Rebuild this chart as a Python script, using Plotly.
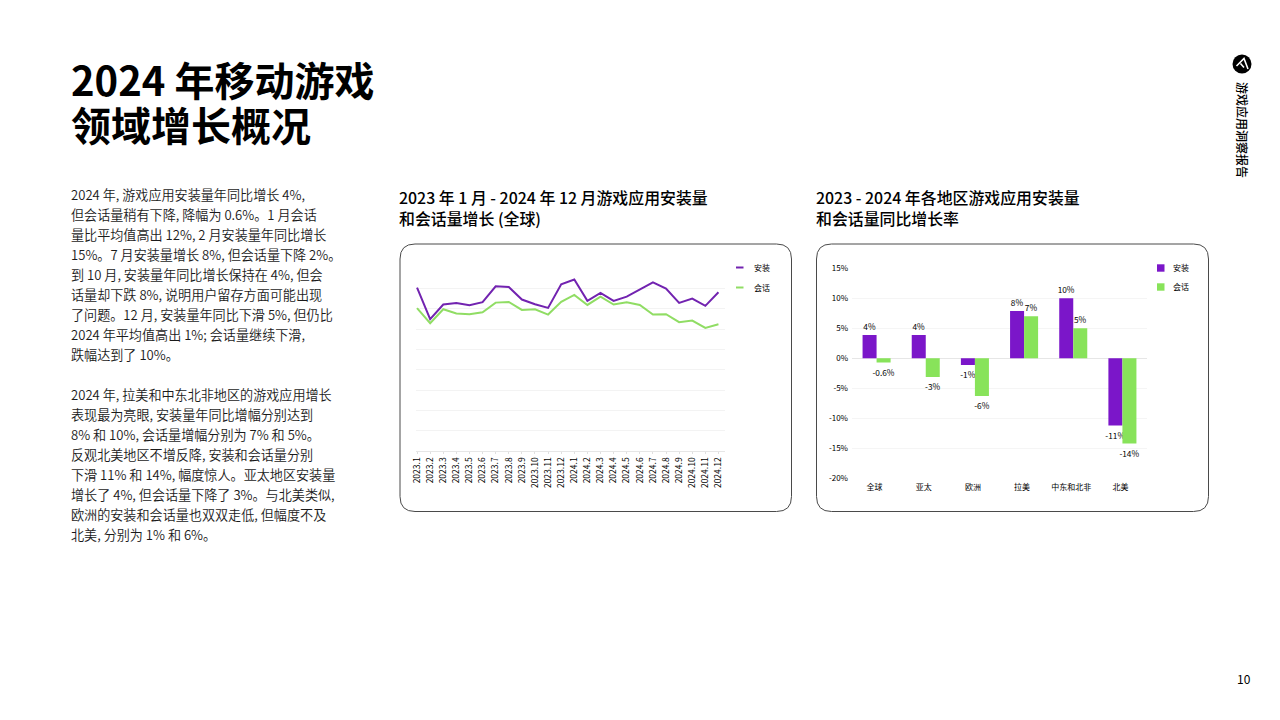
import plotly.graph_objects as go

FONT = 'Noto Sans CJK SC'
PURPLE = '#7b16c9'
GREEN = '#88e35a'
LINE_PURPLE = '#7223b0'
LINE_GREEN = '#90dd64'

months = ['2023.1', '2023.2', '2023.3', '2023.4', '2023.5', '2023.6', '2023.7', '2023.8',
          '2023.9', '2023.10', '2023.11', '2023.12', '2024.1', '2024.2', '2024.3', '2024.4',
          '2024.5', '2024.6', '2024.7', '2024.8', '2024.9', '2024.10', '2024.11', '2024.12']
installs_index = [161, 130, 144.3, 145.9, 143.6, 146.6, 162.3, 161.6, 149.2, 144.6, 141, 164.3,
                  168.9, 147.9, 155.7, 147.9, 152.1, 159.3, 166.2, 160, 145.9, 150.2, 143, 156.4]
sessions_index = [140.7, 125.9, 139.7, 135.4, 134.8, 136.7, 146.2, 146.9, 139, 139.7, 134.4, 146.9,
                  153.8, 143.9, 152.1, 144.3, 146.6, 143.9, 134.4, 134.8, 126.9, 128.5, 121.3, 124.9]

regions = ['全球', '亚太', '欧洲', '拉美', '中东和北非', '北美']
# bar heights as measured, the printed labels are rounded
installs_yoy = [3.9, 3.9, -1.1, 7.9, 10, -11.2]
sessions_yoy = [-0.7, -3.1, -6.3, 7, 5, -14.2]
installs_labels = ['4%', '4%', '-1%', '8%', '10%', '-11%']
sessions_labels = ['-0.6%', '-3%', '-6%', '7%', '5%', '-14%']
yoy_ticks = [15, 10, 5, 0, -5, -10, -15, -20]

title_lines = ['2024 年移动游戏', '领域增长概况']
left_title = ['2023 年 1 月 - 2024 年 12 月游戏应用安装量', '和会话量增长 (全球)']
right_title = ['2023 - 2024 年各地区游戏应用安装量', '和会话量同比增长率']
body_one = ['2024 年, 游戏应用安装量年同比增长 4%,',
            '但会话量稍有下降, 降幅为 0.6%。1 月会话',
            '量比平均值高出 12%, 2 月安装量年同比增长',
            '15%。7 月安装量增长 8%, 但会话量下降 2%。',
            '到 10 月, 安装量年同比增长保持在 4%, 但会',
            '话量却下跌 8%, 说明用户留存方面可能出现',
            '了问题。12 月, 安装量年同比下滑 5%, 但仍比',
            '2024 年平均值高出 1%; 会话量继续下滑,',
            '跌幅达到了 10%。']
body_two = ['2024 年, 拉美和中东北非地区的游戏应用增长',
            '表现最为亮眼, 安装量年同比增幅分别达到',
            '8% 和 10%, 会话量增幅分别为 7% 和 5%。',
            '反观北美地区不增反降, 安装和会话量分别',
            '下滑 11% 和 14%, 幅度惊人。亚太地区安装量',
            '增长了 4%, 但会话量下降了 3%。与北美类似,',
            '欧洲的安装和会话量也双双走低, 但幅度不及',
            '北美, 分别为 1% 和 6%。']


def px(x):
    return x / 1280


def py(y):
    return 1 - y / 720


def label(text, x, y, size, weight=400, xanchor='left', angle=0, color='#000000'):
    fig.add_annotation(text=text, x=px(x), y=py(y), xref='paper', yref='paper',
                       xanchor=xanchor, yanchor='middle', showarrow=False, textangle=angle,
                       align='left', borderpad=0,
                       font=dict(family=FONT, size=size, color=color, weight=weight))


def round_box(x0, y0, x1, y1, r):
    path = (f'M {px(x0 + r)} {py(y0)} L {px(x1 - r)} {py(y0)} '
            f'Q {px(x1)} {py(y0)} {px(x1)} {py(y0 + r)} L {px(x1)} {py(y1 - r)} '
            f'Q {px(x1)} {py(y1)} {px(x1 - r)} {py(y1)} L {px(x0 + r)} {py(y1)} '
            f'Q {px(x0)} {py(y1)} {px(x0)} {py(y1 - r)} L {px(x0)} {py(y0 + r)} '
            f'Q {px(x0)} {py(y0)} {px(x0 + r)} {py(y0)} Z')
    fig.add_shape(type='path', path=path, xref='paper', yref='paper',
                  line=dict(color='#4a4a4a', width=1), fillcolor='rgba(0,0,0,0)')


fig = go.Figure()

# line chart, left card
fig.add_trace(go.Scatter(x=months, y=installs_index, name='安装', mode='lines', xaxis='x', yaxis='y',
                         line=dict(color=LINE_PURPLE, width=2)))
fig.add_trace(go.Scatter(x=months, y=sessions_index, name='会话', mode='lines', xaxis='x', yaxis='y',
                         line=dict(color=LINE_GREEN, width=2)))

# bars, right card
fig.add_trace(go.Bar(x=regions, y=installs_yoy, name='安装', xaxis='x2', yaxis='y2',
                     marker=dict(color=PURPLE, line=dict(width=0)),
                     text=installs_labels, textposition='outside', cliponaxis=False,
                     constraintext='none', textfont=dict(family=FONT, size=8.3, color='#000000')))
fig.add_trace(go.Bar(x=regions, y=sessions_yoy, name='会话', xaxis='x2', yaxis='y2',
                     marker=dict(color=GREEN, line=dict(width=0)),
                     text=sessions_labels, textposition='outside', cliponaxis=False,
                     constraintext='none', textfont=dict(family=FONT, size=8.3, color='#000000')))

fig.update_layout(
    width=1280, height=720, margin=dict(l=0, r=0, t=0, b=0),
    paper_bgcolor='#ffffff', plot_bgcolor='#ffffff', showlegend=False,
    barmode='group', bargap=0.43, bargroupgap=0,
    font=dict(family=FONT, color='#000000'),
    xaxis=dict(domain=[px(416), px(725)], anchor='y', type='category', range=[-0.08, 23.5],
               showgrid=False, showline=True, linecolor='#e6e6e6', linewidth=1,
               ticks='outside', ticklen=2, tickcolor='#e0e0e0',
               tickangle=-90, tickfont=dict(size=8.5, color='#000000'), automargin=False),
    yaxis=dict(domain=[py(451), py(268.3)], anchor='x', range=[0, 180], dtick=20,
               showticklabels=False, showgrid=True, gridcolor='#f3f3f3', gridwidth=1,
               zeroline=False, automargin=False),
    xaxis2=dict(domain=[px(852), px(1147)], anchor='y2', type='category',
                showgrid=False, showline=False, ticks='',
                ticklabelstandoff=3, ticklabelshift=-2,
                tickfont=dict(size=8, color='#000000'), automargin=False),
    yaxis2=dict(domain=[py(478.3), py(268.3)], anchor='x2', range=[-20, 15],
                tickvals=yoy_ticks, ticktext=[f'{v}%' for v in yoy_ticks],
                showgrid=True, gridcolor='#f5f5f5', gridwidth=1,
                zeroline=True, zerolinecolor='#e6e6e6', zerolinewidth=1, ticklabelstandoff=3,
                tickfont=dict(size=8, color='#000000'), automargin=False),
)

round_box(400, 244, 791.5, 511.5, 15)
round_box(816.5, 244, 1208.5, 511.5, 15)

# headings and body copy
for i, line in enumerate(title_lines):
    label(line, 69.5, 79.5 + 45 * i, 40, weight=700)
label('<br>'.join(left_title), 398, 208.5, 15.9, weight=500)
label('<br>'.join(right_title), 815, 208.5, 15.9, weight=500)
for i, line in enumerate(body_one):
    label(line, 70, 194.5 + 20 * i, 13.1, weight=350, color='#1a1a1a')
for i, line in enumerate(body_two):
    label(line, 70, 394.5 + 20 * i, 13.1, weight=350, color='#1a1a1a')

# legends
for i, (name, color) in enumerate([('安装', LINE_PURPLE), ('会话', LINE_GREEN)]):
    y = 267.5 + 20 * i
    fig.add_shape(type='line', xref='paper', yref='paper', x0=px(736), x1=px(743.5), y0=py(y), y1=py(y),
                  line=dict(color=color, width=2))
    label(name, 753, y - 0.5, 8)
for i, (name, color) in enumerate([('安装', PURPLE), ('会话', GREEN)]):
    y = 268 + 19 * i
    fig.add_shape(type='rect', xref='paper', yref='paper', x0=px(1157), x1=px(1164.5),
                  y0=py(y - 3.7), y1=py(y + 3.7), fillcolor=color, line=dict(width=0))
    label(name, 1171.5, y - 0.5, 8)

# brand mark and side label
fig.add_shape(type='circle', xref='paper', yref='paper', x0=px(1232.5), x1=px(1251.5),
              y0=py(54.5), y1=py(73.5), fillcolor='#000000', line=dict(width=0))
fig.add_shape(type='path', xref='paper', yref='paper', line=dict(color='#ffffff', width=1.6),
              fillcolor='rgba(0,0,0,0)',
              path=f'M {px(1236.5)} {py(66)} L {px(1244)} {py(58.5)} L {px(1248)} {py(69)} '
                   f'M {px(1240.5)} {py(63.5)} L {px(1244)} {py(67.5)}')
label('游戏应用洞察报告', 1243, 130, 12, weight=500, xanchor='center', angle=90)
label('10', 1244, 678, 12, xanchor='center')

# the page's default body margin would push the fixed-size figure off by 8px
fig.write_html('out.html', config={'displayModeBar': False},
               post_script="document.body.style.margin = '0';")
